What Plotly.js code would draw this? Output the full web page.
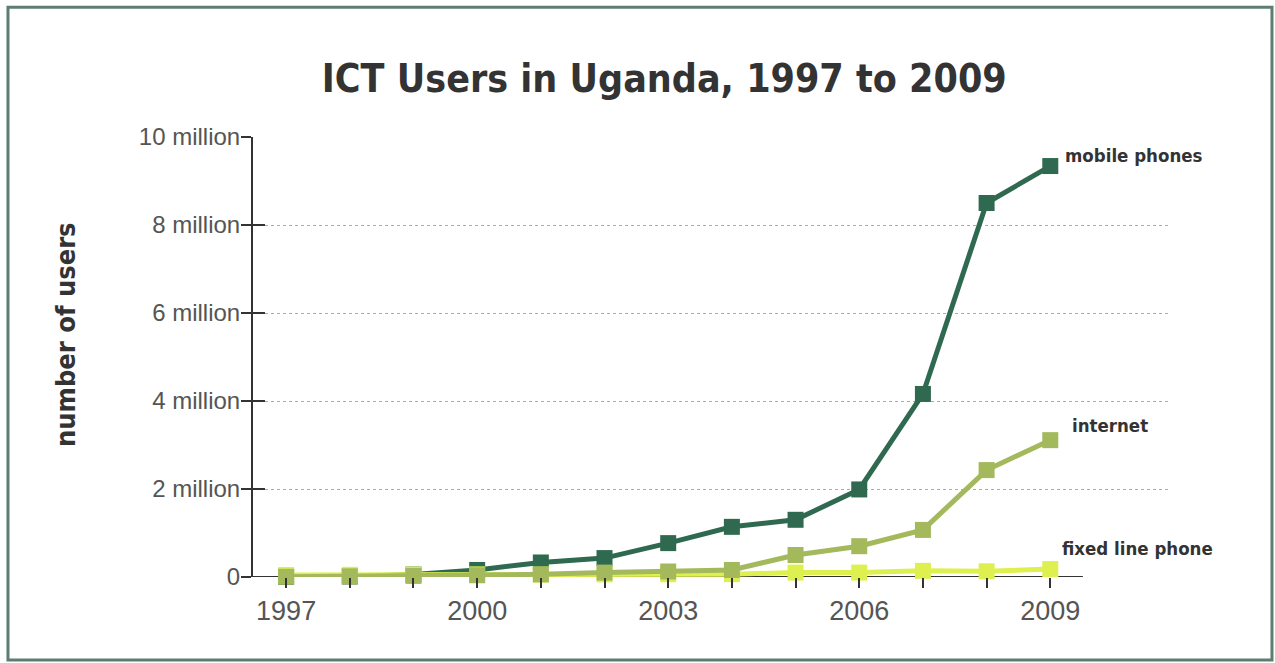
<!DOCTYPE html>
<html>
<head>
<meta charset="utf-8">
<script src="https://cdn.plot.ly/plotly-3.0.1.min.js"></script>
<style>
html,body{margin:0;padding:0;background:#fff;}
#chart{width:1275px;height:663px;}
</style>
</head>
<body>
<div id="chart"></div>
<script>
// ---- data ----
const years = [1997,1998,1999,2000,2001,2002,2003,2004,2005,2006,2007,2008,2009];
const mobilePhones = [4000,12000,56000,160000,330000,430000,770000,1140000,1300000,1990000,4160000,8500000,9340000];
const internetUsers = [5000,15000,25000,40000,60000,100000,125000,160000,500000,700000,1070000,2430000,3110000];
const fixedLinePhone = [45000,50000,55000,60000,55000,60000,62000,65000,100000,100000,140000,130000,180000];
const seriesNames = ['mobile phones','internet','fixed line phone'];
const yTickVals = [0,2000000,4000000,6000000,8000000,10000000];
const yTickText = ['0','2 million','4 million','6 million','8 million','10 million'];
const xTickVals = years;
const xTickText = years.map(y => ((y - 1997) % 3 === 0) ? String(y) : '');
const chartTitle = 'ICT Users in Uganda, 1997 to 2009';
const yTitle = 'number of users';

const colors = ['#2f6a50','#a3b95c','#def050'];
const narrow = '"Liberation Sans Narrow", "DejaVu Sans Condensed", "Arial Narrow", sans-serif';
const regular = '"Liberation Sans", Arial, sans-serif';

const seriesData = [mobilePhones, internetUsers, fixedLinePhone];
const drawOrder = [0,2,1];
const traces = drawOrder.map(i => ({
  x: years, y: seriesData[i], name: seriesNames[i],
  type: 'scatter', mode: 'lines+markers',
  line: {color: colors[i], width: 5},
  marker: {symbol: 'square', size: 16, color: colors[i]},
  cliponaxis: false, showlegend: false, hoverinfo: 'x+y'
}));

const labelShifts = [[13,11],[20,15],[10,21]];
const annotations = seriesNames.map((n,i) => ({
  x: years[years.length-1], y: seriesData[i][seriesData[i].length-1],
  xref: 'x', yref: 'y', text: '<b>'+n+'</b>', showarrow: false,
  xanchor: 'left', yanchor: 'middle',
  xshift: labelShifts[i][0], yshift: labelShifts[i][1],
  font: {family: narrow, size: 18.5, color: '#333'}
}));
annotations.push({
  xref: 'paper', yref: 'paper', x: -0.205, y: 0.55,
  text: '<b>'+yTitle+'</b>', textangle: -90, showarrow: false,
  xanchor: 'center', yanchor: 'middle',
  font: {family: narrow, size: 27, color: '#333'}
});

const layout = {
  width: 1275, height: 663,
  margin: {l: 253, r: 105, t: 137, b: 86},
  paper_bgcolor: '#fff', plot_bgcolor: 'rgba(0,0,0,0)',
  title: {text: '<b>'+chartTitle+'</b>', x: 0.521, xref: 'container', xanchor: 'center',
          y: 0.882, yref: 'container', yanchor: 'middle',
          font: {family: narrow, size: 39, color: '#333'}},
  xaxis: {
    range: [1996.48, 2010.88], tickmode: 'array', tickvals: xTickVals, ticktext: xTickText,
    showgrid: false, zeroline: false, showline: false,
    ticks: 'outside', ticklen: 10, tickwidth: 2, tickcolor: '#333',
    tickfont: {family: regular, size: 27, color: '#555'}
  },
  yaxis: {
    range: [0, 10000000], tickmode: 'array', tickvals: yTickVals, ticktext: yTickText,
    showgrid: true, gridcolor: '#aaa', griddash: 'dot', gridwidth: 1,
    zeroline: false, showline: true, linecolor: '#333', linewidth: 2,
    ticks: 'outside', ticklen: 10, tickwidth: 2, tickcolor: '#333',
    ticklabelstandoff: -4,
    tickfont: {family: regular, size: 24, color: '#555'}
  },
  yaxis2: {
    overlaying: 'y', range: [0, 10000000], tickmode: 'array', tickvals: yTickVals,
    showticklabels: false, showgrid: false, zeroline: false, showline: false,
    ticks: 'inside', ticklen: 12, tickwidth: 2, tickcolor: '#333'
  },
  shapes: [
    {type: 'line', xref: 'paper', yref: 'y', x0: 0, x1: 0.905, y0: 0, y1: 0,
     line: {color: '#333', width: 2}, layer: 'below'},
    {type: 'rect', xref: 'paper', yref: 'paper', x0: -0.2672, x1: 1.1112, y0: -0.1886, y1: 1.295,
     line: {color: '#5d7d70', width: 3}}
  ],
  annotations: annotations,
  showlegend: false
};

// invisible helper trace so the overlaying axis (inner tick marks) is drawn
traces.unshift({x: [years[0]], y: [0], yaxis: 'y2', mode: 'markers', marker: {opacity: 0}, hoverinfo: 'skip', showlegend: false});

Plotly.newPlot('chart', traces, layout, {displayModeBar: false, staticPlot: true});
</script>
</body>
</html>
